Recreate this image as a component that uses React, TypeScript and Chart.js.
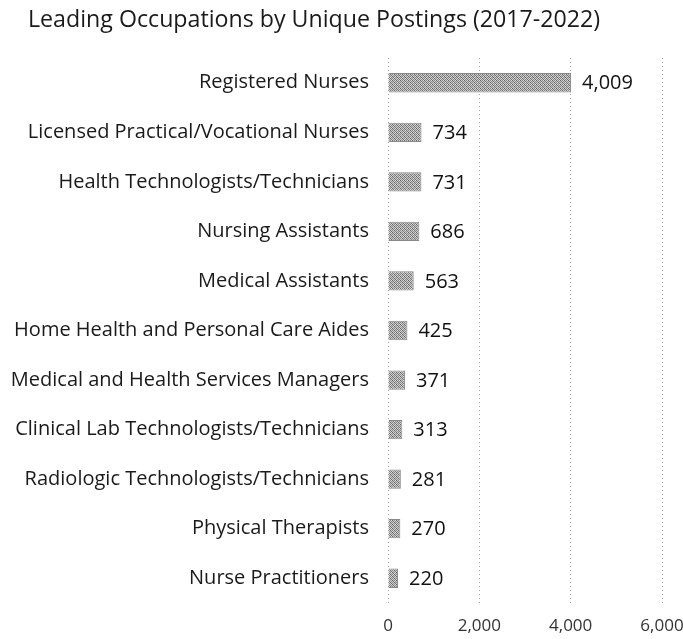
import React, { useEffect, useRef } from "react";
import { Chart, registerables } from "chart.js";

Chart.register(...registerables);

const TITLE = "Leading Occupations by Unique Postings (2017-2022)";
const categories = [
  "Registered Nurses",
  "Licensed Practical/Vocational Nurses",
  "Health Technologists/Technicians",
  "Nursing Assistants",
  "Medical Assistants",
  "Home Health and Personal Care Aides",
  "Medical and Health Services Managers",
  "Clinical Lab Technologists/Technicians",
  "Radiologic Technologists/Technicians",
  "Physical Therapists",
  "Nurse Practitioners",
];
const postings = [4009, 734, 731, 686, 563, 425, 371, 313, 281, 270, 220];
const xTicks = [0, 2000, 4000, 6000];

const FONT = "'Open Sans', sans-serif";

function makePattern(): CanvasPattern | string {
  const c = document.createElement("canvas");
  c.width = 4;
  c.height = 4;
  const g = c.getContext("2d");
  if (!g) return "#999";
  const cells = [
    "#666666", "#cccccc", "#858585", "#dadada",
    "#c4c4c4", "#747474", "#d4d4d4", "#8c8c8c",
    "#888888", "#d8d8d8", "#6a6a6a", "#c6c6c6",
    "#d0d0d0", "#909090", "#c4c4c4", "#787878",
  ];
  cells.forEach((col, i) => {
    g.fillStyle = col;
    g.fillRect(i % 4, Math.floor(i / 4), 1, 1);
  });
  const p = g.createPattern(c, "repeat");
  return p || "#999";
}

const valueLabels = {
  id: "valueLabels",
  afterDatasetsDraw(chart: any) {
    const ctx = chart.ctx;
    const meta = chart.getDatasetMeta(0);
    ctx.save();
    ctx.font = `20px ${FONT}`;
    ctx.fillStyle = "#111";
    ctx.textAlign = "left";
    ctx.textBaseline = "middle";
    meta.data.forEach((bar: any, i: number) => {
      ctx.fillText(postings[i].toLocaleString("en-US"), bar.x + 11, bar.y + 1);
    });
    ctx.restore();
  },
};

const titlePlugin = {
  id: "leftTitle",
  afterDraw(chart: any) {
    const ctx = chart.ctx;
    ctx.save();
    ctx.font = `23.2px ${FONT}`;
    ctx.fillStyle = "#1a1a1a";
    ctx.textAlign = "left";
    ctx.textBaseline = "middle";
    ctx.fillText(TITLE, 28, 20);
    ctx.restore();
  },
};

export default function App() {
  const ref = useRef<HTMLCanvasElement>(null);
  useEffect(() => {
    if (!ref.current) return;
    const chart = new Chart(ref.current, {
      type: "bar",
      data: {
        labels: categories,
        datasets: [
          {
            data: postings,
            backgroundColor: makePattern() as any,
            borderColor: "#888888",
            borderWidth: 1,
            barPercentage: 0.78,
            categoryPercentage: 0.5,
          },
        ],
      },
      options: {
        indexAxis: "y",
        animation: false,
        responsive: false,
        layout: { padding: { left: 0, right: 21, top: 58, bottom: 0 } },
        plugins: {
          legend: { display: false },
          tooltip: { enabled: false },
          title: { display: false },
        },
        scales: {
          x: {
            min: 0,
            max: 6000,
            afterBuildTicks: (s: any) => {
              s.ticks = xTicks.map((v) => ({ value: v }));
            },
            afterFit: (s: any) => {
              s.height = 36;
              s.paddingLeft = 0;
              s.paddingRight = 0;
            },
            border: { display: false, dash: [1, 3] },
            grid: {
              drawTicks: false,
              color: "#aaaaaa",
              lineWidth: 1,
            },
            ticks: {
              padding: 13,
              color: "#333",
              font: { family: FONT, size: 17 },
              callback: (v: any) => Number(v).toLocaleString("en-US"),
            },
          },
          y: {
            afterFit: (s: any) => {
              s.width = 388;
              s.paddingTop = 0;
              s.paddingBottom = 0;
            },
            border: { display: false },
            grid: { display: false, drawTicks: false },
            ticks: {
              padding: 19,
              color: "#1a1a1a",
              font: { family: FONT, size: 20 },
            },
          },
        },
      },
      plugins: [valueLabels, titlePlugin],
    } as any);
    return () => chart.destroy();
  }, []);
  return (
    <div style={{ position: "absolute", left: 0, top: 0, width: 683, height: 639, background: "#fff" }}>
      <canvas ref={ref} width={683} height={639} style={{ width: 683, height: 639 }} />
    </div>
  );
}
